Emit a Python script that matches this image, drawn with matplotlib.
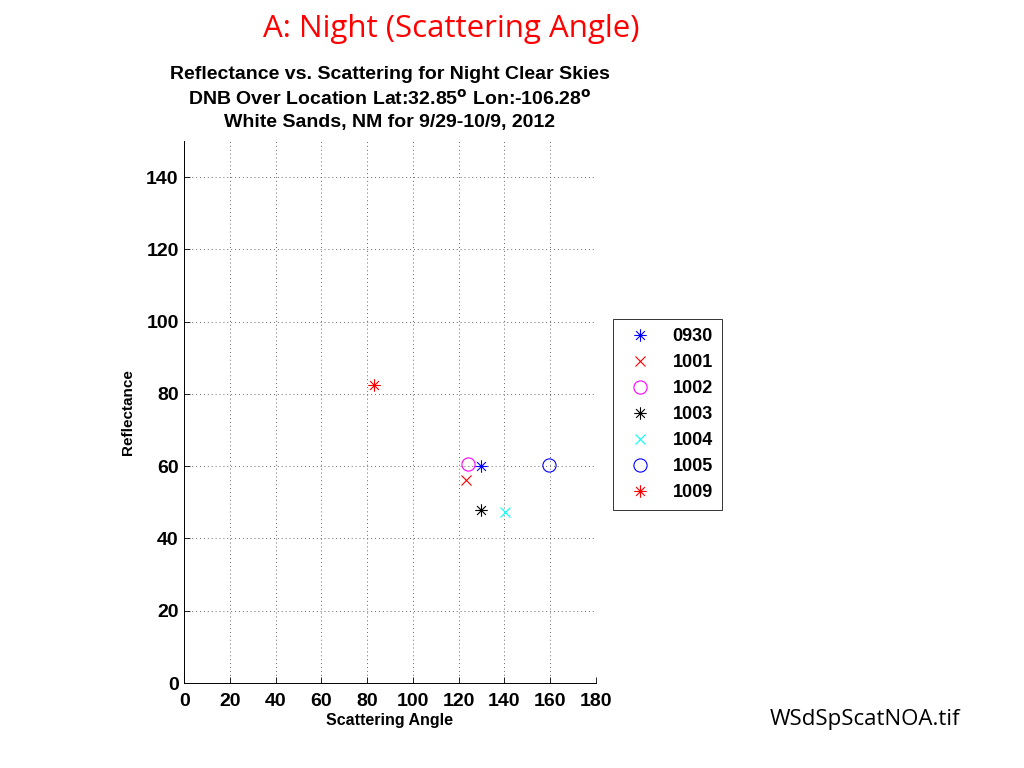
import numpy as np
import matplotlib
matplotlib.use('Agg')
import matplotlib.pyplot as plt
from matplotlib.path import Path

# ── Datos ─────────────────────────────────────────────
fechas = ['0930', '1001', '1002', '1003', '1004', '1005', '1009']
angulo = [129.7, 123.3, 124.0, 129.8, 140.4, 159.7, 83.0]
reflectancia = [60.0, 56.3, 60.6, 48.0, 47.4, 60.3, 82.6]
marcadores = ['ast', 'x', 'o', 'ast', 'x', 'o', 'ast']
colores = ['#0000ff', '#ff0000', '#ff00ff', '#000000', '#00ffff', '#0000ff', '#ff0000']

xticks = [0, 20, 40, 60, 80, 100, 120, 140, 160, 180]
yticks = [0, 20, 40, 60, 80, 100, 120, 140]

# asterisco estilo MATLAB (8 brazos)
d = np.sqrt(0.5)
_ast = Path([(0, -1), (0, 1), (-1, 0), (1, 0), (-d, -d), (d, d), (-d, d), (d, -d)],
            [Path.MOVETO, Path.LINETO] * 4)

plt.rcParams['font.family'] = ['Liberation Sans', 'DejaVu Sans']

fig = plt.figure(figsize=(10.24, 7.68), dpi=100)
ax = fig.add_axes([184.3 / 1024, 1 - 683 / 768, (595.6 - 184.3) / 1024, (683 - 141) / 768])

for f, xv, yv, m, c in zip(fechas, angulo, reflectancia, marcadores, colores):
    if m == 'ast':
        ax.plot([xv], [yv], linestyle='none', marker=_ast, markersize=9,
                markeredgecolor=c, markerfacecolor='none', markeredgewidth=0.8, label=f)
    elif m == 'x':
        ax.plot([xv], [yv], linestyle='none', marker='x', markersize=7,
                color=c, markeredgewidth=0.8, label=f)
    else:
        ax.plot([xv], [yv], linestyle='none', marker='o', markersize=9.5,
                markeredgecolor=c, markerfacecolor='none', markeredgewidth=0.8, label=f)

ax.set_xlim(0, 180)
ax.set_ylim(0, 150)
ax.set_xticks(xticks)
ax.set_yticks(yticks)
ax.tick_params(direction='in', length=4, width=0.6, labelsize=14)
ax.tick_params(axis='x', pad=7.5)
ax.tick_params(axis='y', pad=4)
for lbl in ax.get_xticklabels() + ax.get_yticklabels():
    lbl.set_fontweight('bold')
ax.grid(True, color='#666666', linestyle=(0, (1, 3)), linewidth=0.7)
ax.spines['top'].set_visible(False)
ax.spines['right'].set_visible(False)
ax.spines['left'].set_linewidth(0.7)
ax.spines['bottom'].set_linewidth(0.7)

ax.set_xlabel('Scattering Angle', fontsize=11.5, fontweight='bold', labelpad=2)
ax.set_ylabel('Reflectance', fontsize=11, fontweight='bold', labelpad=8)
ax.set_title('Reflectance vs. Scattering for Night Clear Skies\n'
             'DNB Over Location Lat:32.85$^{\\mathbf{o}}$ Lon:-106.28$^{\\mathbf{o}}$\n'
             'White Sands, NM for 9/29-10/9, 2012',
             fontsize=14, fontweight='bold', linespacing=1.38, pad=10)

leg = fig.legend(loc='upper left', bbox_to_anchor=(613 / 1024, 1 - 319 / 768),
                 frameon=True, fancybox=False, prop={'weight': 'bold', 'size': 13},
                 handlelength=2.0, handletextpad=0.8, labelspacing=0.5,
                 borderpad=0.5, borderaxespad=0)
leg.get_frame().set_edgecolor('black')
leg.get_frame().set_linewidth(0.7)

fig.text(451 / 1024, 1 - 29 / 768, 'A: Night (Scattering Angle)', color='#ff0000',
         fontsize=22.5, family=['Open Sans', 'DejaVu Sans'], ha='center', va='center')
fig.text(865 / 1024, 1 - 720 / 768, 'WSdSpScatNOA.tif', color='black',
         fontsize=16, family=['Open Sans', 'DejaVu Sans'], ha='center', va='center')

fig.savefig('out.png', dpi=100)
